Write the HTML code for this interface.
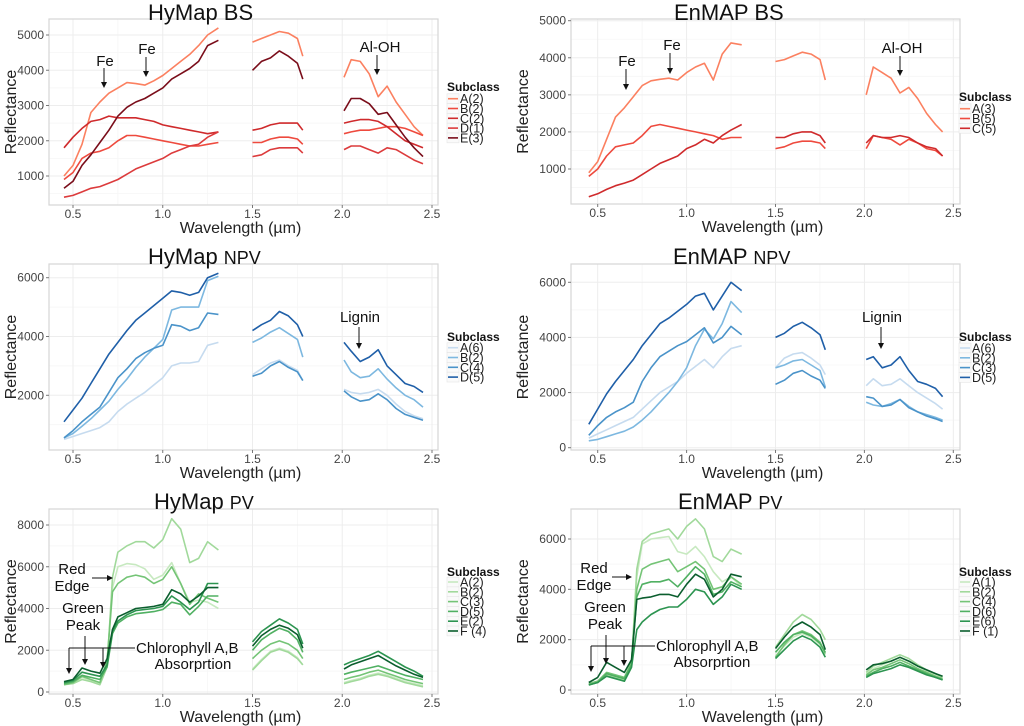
<!DOCTYPE html>
<html><head><meta charset="utf-8"><style>
body{margin:0;background:#fff;}
svg{display:block;font-family:"Liberation Sans",sans-serif;}
</style></head><body>
<svg id="chart" width="1024" height="726" viewBox="0 0 1024 726"></svg>
<script>
// ---- wavelength samples (µm) ----
const wlVis = [0.45,0.5,0.55,0.6,0.65,0.7,0.75,0.8,0.85,0.9,0.95,1.0,1.05,1.1,1.15,1.2,1.25,1.31];
const wlVisPV = [0.45,0.5,0.55,0.6,0.65,0.69,0.72,0.75,0.8,0.85,0.9,0.95,1.0,1.05,1.1,1.15,1.2,1.25,1.31];
const wlSwir1 = [1.5,1.55,1.6,1.65,1.7,1.75,1.78];
const wlSwir2H = [2.01,2.05,2.1,2.15,2.2,2.25,2.3,2.35,2.4,2.45];
const wlSwir2E = [2.01,2.05,2.1,2.15,2.2,2.25,2.3,2.35,2.4,2.44];

// ---- HyMap BS ----
const hyBS_A = [[1000,1300,1900,2800,3100,3350,3500,3650,3620,3580,3700,3850,4050,4250,4450,4700,5000,5200],[4800,4900,5000,5100,5050,4900,4400],[3800,4300,4250,3900,3250,3550,3100,2750,2400,2150]];
const hyBS_B = [[900,1100,1500,1650,1700,1800,2000,2150,2150,2100,2050,2000,1950,1900,1850,1850,1900,1950],[1950,1950,2050,2100,2100,2050,1900],[2200,2250,2300,2300,2350,2400,2400,2350,2250,2150]];
const hyBS_C = [[1800,2100,2350,2550,2600,2700,2650,2650,2650,2600,2550,2450,2400,2350,2300,2250,2200,2250],[2300,2350,2450,2500,2500,2500,2300],[2500,2550,2600,2600,2550,2400,2200,2000,1900,1800]];
const hyBS_D = [[400,450,550,650,700,800,900,1050,1200,1300,1400,1500,1650,1750,1850,1900,2100,2250],[1550,1600,1750,1800,1800,1800,1650],[1750,1850,1850,1750,1650,1800,1750,1600,1450,1350]];
const hyBS_E = [[650,850,1300,1600,1950,2300,2700,2950,3100,3200,3350,3500,3750,3900,4050,4250,4700,4850],[4000,4250,4350,4550,4400,4200,3750],[2850,3200,3200,3050,2750,2800,2450,2100,1800,1550]];
// ---- EnMAP BS ----
const enBS_A = [[900,1200,1800,2400,2650,2950,3250,3380,3420,3450,3400,3600,3750,3850,3400,4100,4400,4350],[3900,3950,4050,4150,4100,3950,3400],[3000,3750,3600,3450,3050,3200,2900,2500,2200,2000]];
const enBS_B = [[800,1000,1350,1600,1650,1700,1900,2150,2200,2150,2100,2050,2000,1950,1900,1800,1850,1850],[1550,1600,1700,1750,1750,1700,1550],[1550,1900,1850,1800,1650,1800,1700,1550,1500,1350]];
const enBS_C = [[250,330,450,550,620,700,850,1000,1150,1250,1350,1550,1650,1800,1700,1900,2050,2200],[1850,1850,1950,2000,2000,1900,1700],[1700,1900,1850,1850,1900,1850,1700,1600,1550,1350]];
// ---- HyMap NPV ----
const hyNPV_A = [[500,600,700,800,900,1100,1450,1700,1900,2100,2350,2600,3000,3100,3100,3150,3700,3800],[2700,2900,3100,3200,3000,2850,2500],[2200,2100,2050,2100,2200,2000,1700,1450,1300,1200]];
const hyNPV_B = [[550,700,950,1200,1500,1800,2200,2550,2950,3300,3600,3900,4900,5000,5000,5000,5900,6050],[3800,3950,4150,4300,4100,3900,3300],[3200,2800,2600,2650,2900,2550,2250,2000,1850,1600]];
const hyNPV_C = [[550,800,1100,1350,1600,2100,2600,2900,3250,3450,3600,3700,4400,4350,4200,4300,4800,4750],[2650,2750,3000,3150,2950,2800,2500],[2150,1950,1800,1850,2050,1850,1550,1350,1250,1150]];
const hyNPV_D = [[1100,1500,1900,2400,2900,3400,3800,4200,4550,4800,5050,5300,5550,5500,5400,5500,6000,6150],[4200,4400,4550,4850,4700,4400,4000],[3800,3500,3150,3300,3550,3000,2700,2400,2300,2100]];
// ---- EnMAP NPV ----
const enNPV_A = [[350,500,650,800,950,1100,1400,1700,2000,2200,2400,2700,2950,3200,2900,3300,3600,3700],[2900,3250,3400,3450,3250,3000,2650],[2250,2500,2250,2300,2500,2250,2000,1800,1600,1400]];
const enNPV_B = [[250,300,400,500,600,750,1000,1300,1650,2000,2400,2900,3700,4300,3950,4500,5300,4900],[2900,3000,3150,3200,3000,2800,2200],[1650,1550,1500,1600,1750,1500,1300,1200,1100,1000]];
const enNPV_C = [[450,800,1100,1300,1450,1650,2400,2900,3300,3500,3700,3850,4100,4350,3800,4000,4400,4100],[2300,2450,2700,2800,2600,2450,2150],[1850,1800,1500,1550,1750,1450,1300,1150,1050,950]];
const enNPV_D = [[850,1400,1950,2400,2800,3200,3700,4100,4500,4700,4950,5200,5500,5600,5000,5500,6000,5700],[4000,4150,4400,4550,4350,4100,3550],[3200,3300,2900,3000,3300,2800,2400,2300,2150,1850]];
// ---- HyMap PV ----
const hyPV_A = [[400,450,700,550,400,1500,5000,6000,6150,6100,5900,5400,5600,6200,5200,4300,4400,4300,4000],[1100,1550,1950,2100,1950,1650,1300],[450,550,650,800,900,800,650,500,400,300]];
const hyPV_B = [[350,400,600,500,350,1200,5500,6700,7000,7200,7200,6900,7300,8300,7800,6200,6400,7200,6800],[1050,1500,1900,2050,1900,1600,1300],[400,500,600,750,850,750,600,450,350,250]];
const hyPV_C = [[350,450,750,600,450,1500,4800,5200,5500,5600,5500,5200,5400,6000,5200,4200,4700,4500,4300],[1600,2000,2300,2450,2300,2000,1600],[600,700,800,950,1050,900,750,600,500,400]];
const hyPV_D = [[400,500,800,700,600,1200,2800,3300,3600,3750,3800,3850,3950,4300,4200,3700,4100,4600,4600],[2000,2500,2800,3050,2900,2500,1900],[850,950,1050,1150,1250,1100,950,800,700,600]];
const hyPV_E = [[450,550,950,850,750,1300,2900,3400,3700,3900,3950,4000,4100,4600,4300,3950,4300,5200,5200],[2400,2900,3200,3500,3300,3000,2300],[1300,1450,1600,1750,1950,1700,1450,1200,1000,750]];
const hyPV_F = [[500,600,1150,1000,900,1600,3000,3600,3800,4000,4050,4100,4200,4900,4700,4300,4600,5000,5000],[2200,2700,3000,3200,3050,2750,2100],[1100,1300,1450,1600,1750,1500,1250,1050,850,700]];
// ---- EnMAP PV ----
const enPV_A = [[250,300,600,500,400,1000,4500,5800,6000,6050,6100,5500,5400,5700,5300,4700,4300,4500,4100],[1350,1750,2100,2250,2100,1800,1400],[650,850,1000,1150,1300,1150,950,750,600,450]];
const enPV_B = [[250,300,600,500,400,1000,4800,5900,6200,6300,6400,6000,6500,6800,6400,5300,5100,5600,5400],[1700,2200,2700,3000,2800,2400,2000],[700,950,1100,1250,1400,1250,1000,800,650,500]];
const enPV_C = [[250,350,700,600,500,1100,4000,4800,5000,5100,5200,4700,4900,5100,4800,4000,4100,4500,4200],[1300,1800,2200,2350,2200,1900,1450],[600,800,900,1050,1200,1050,850,700,550,450]];
const enPV_D = [[200,300,650,550,450,1000,3700,4200,4300,4300,4400,4100,4500,4900,4600,3800,3900,4300,4100],[1500,1900,2200,2300,2150,1850,1500],[550,700,850,950,1100,950,800,650,500,400]];
const enPV_E = [[200,300,550,450,350,900,2400,2700,3000,3200,3300,3300,3600,4000,3900,3400,3700,4200,4000],[1250,1600,1950,2150,2000,1700,1300],[500,650,750,850,1000,900,750,600,500,400]];
const enPV_F = [[300,500,1100,900,700,1200,3600,3650,3700,3800,3800,3700,4200,4600,4400,3700,4000,4600,4500],[1650,2100,2500,2700,2500,2200,1600],[800,1000,1050,1150,1300,1150,950,800,650,550]];

const xTicks = [0.5,1.0,1.5,2.0,2.5];
const xTickLabels = ["0.5","1.0","1.5","2.0","2.5"];

const NS = "http://www.w3.org/2000/svg";
const svg = document.getElementById('chart');
function mk(tag, attrs, parent, text){
  const e = document.createElementNS(NS, tag);
  for (const k in attrs) e.setAttribute(k, attrs[k]);
  if (text !== undefined) e.textContent = text;
  (parent || svg).appendChild(e);
  return e;
}
const reds = ['#fb8060','#ee4a3e','#cf2a2c','#dc3b3c','#7a0d1a'];
const blues = ['#c6dbef','#7db8e0','#4a93c9','#1f5fa8'];
const greens = ['#c7e9c0','#a1d99b','#74c476','#50b062','#2c9450','#0b5e2e'];

const panels = [
 {id:'hymap-bs', L:0, top:19, bot:205, y1:[1000,176], y2:[5000,35], yticks:[1000,2000,3000,4000,5000], minor:[500,1500,2500,3500,4500],
  t1:'HyMap', t2:'BS', tx:148, ty:22, t2small:false, leg:87, legFirst:98.7,
  series:[['A(2)',hyBS_A],['B(2)',hyBS_B],['C(2)',hyBS_C],['D(1)',hyBS_D],['E(3)',hyBS_E]], colors:reds, vis:wlVis, sw2:wlSwir2H},
 {id:'hymap-npv', L:0, top:264, bot:450, y1:[2000,395.3], y2:[6000,277.7], yticks:[2000,4000,6000], minor:[1000,3000,5000],
  t1:'HyMap', t2:'NPV', tx:148, ty:266, t2small:true, leg:337, legFirst:347.7,
  series:[['A(6)',hyNPV_A],['B(2)',hyNPV_B],['C(4)',hyNPV_C],['D(5)',hyNPV_D]], colors:blues, vis:wlVis, sw2:wlSwir2H},
 {id:'hymap-pv', L:0, top:509, bot:694, y1:[0,692], y2:[8000,525], yticks:[0,2000,4000,6000,8000], minor:[1000,3000,5000,7000],
  t1:'HyMap', t2:'PV', tx:154, ty:511, t2small:true, leg:572, legFirst:582,
  series:[['A(2)',hyPV_A],['B(2)',hyPV_B],['C(3)',hyPV_C],['D(5)',hyPV_D],['E(2)',hyPV_E],['F (4)',hyPV_F]], colors:greens, vis:wlVisPV, sw2:wlSwir2H},
 {id:'enmap-bs', L:512, top:19, bot:204, y1:[1000,169], y2:[5000,20.7], yticks:[1000,2000,3000,4000,5000], minor:[500,1500,2500,3500,4500],
  t1:'EnMAP', t2:'BS', tx:674, ty:22, t2small:false, leg:97, legFirst:108.7,
  series:[['A(3)',enBS_A],['B(5)',enBS_B],['C(5)',enBS_C]], colors:[reds[0],reds[1],reds[2]], vis:wlVis, sw2:wlSwir2E},
 {id:'enmap-npv', L:512, top:264, bot:450, y1:[0,447.7], y2:[6000,282.3], yticks:[0,2000,4000,6000], minor:[1000,3000,5000],
  t1:'EnMAP', t2:'NPV', tx:673, ty:266, t2small:true, leg:337, legFirst:348,
  series:[['A(6)',enNPV_A],['B(2)',enNPV_B],['C(3)',enNPV_C],['D(5)',enNPV_D]], colors:blues, vis:wlVis, sw2:wlSwir2E},
 {id:'enmap-pv', L:512, top:509, bot:694, y1:[0,690], y2:[6000,539], yticks:[0,2000,4000,6000], minor:[1000,3000,5000],
  t1:'EnMAP', t2:'PV', tx:678, ty:511, t2small:true, leg:572, legFirst:582,
  series:[['A(1)',enPV_A],['B(2)',enPV_B],['C(4)',enPV_C],['D(6)',enPV_D],['E(6)',enPV_E],['F (1)',enPV_F]], colors:greens, vis:wlVisPV, sw2:wlSwir2E}
];

panels.forEach(p => {
  const g = mk('g', {});
  
  
  const x05 = p.L ? 597.7 : 73, x25 = p.L ? 953.3 : 432;
  const xs = w => x05 + (w - 0.5) * (x25 - x05) / 2;
  const ys = v => p.y1[1] + (v - p.y1[0]) * (p.y2[1] - p.y1[1]) / (p.y2[0] - p.y1[0]);
  const left = p.L ? 571 : 49, right = p.L ? 960 : 438;
  const cx = (left + right) / 2;
  const grid = mk('g', {}, g);
  
  
  [0.75,1.25,1.75,2.25].forEach(w => mk('line',{x1:xs(w),x2:xs(w),y1:p.top,y2:p.bot,stroke:'#f6f6f6','stroke-width':0.8},grid));
  p.minor.forEach(v => mk('line',{x1:left,x2:right,y1:ys(v),y2:ys(v),stroke:'#f6f6f6','stroke-width':0.8},grid));
  xTicks.forEach(w => mk('line',{x1:xs(w),x2:xs(w),y1:p.top,y2:p.bot,stroke:'#ededed','stroke-width':1},grid));
  p.yticks.forEach(v => mk('line',{x1:left,x2:right,y1:ys(v),y2:ys(v),stroke:'#ededed','stroke-width':1},grid));
  const box = mk('rect',{x:left,y:p.top,width:right-left,height:p.bot-p.top,fill:'none',stroke:'#d6d6d6','stroke-width':1.2},g);
  
  
  p.yticks.forEach(v => {
    mk('line',{x1:left-3,x2:left,y1:ys(v),y2:ys(v),stroke:'#777'},g);
    const t = mk('text',{x:left-5,y:ys(v)+4,'text-anchor':'end','font-size':12,fill:'#444'},g,String(v));
    
    
  });
  xTicks.forEach((w,i) => {
    mk('line',{x1:xs(w),x2:xs(w),y1:p.bot,y2:p.bot+3,stroke:'#777'},g);
    const t = mk('text',{x:xs(w),y:p.bot+13,'text-anchor':'middle','font-size':12,fill:'#444'},g,xTickLabels[i]);
    
    
  });
  const xt = mk('text',{x:cx-3,y:p.bot+28,'text-anchor':'middle','font-size':16,fill:'#222'},g,'Wavelength (µm)');
  
  
  const yc = (p.top + p.bot) / 2;
  const yt = mk('text',{x:p.L+16,y:yc,'text-anchor':'middle','font-size':16,fill:'#222',transform:`rotate(-90 ${p.L+16} ${yc})`},g,'Reflectance');
  
  
  const tt = mk('text',{x:p.tx,y:p.ty-2,'font-size':22,fill:'#111'},g);
  
  
  mk('tspan',{},tt,p.t1 + ' ');
  mk('tspan',{'font-size':p.t2small?18:22},tt,p.t2);
  const segs = [p.vis, wlSwir1, p.sw2];
  p.series.forEach((s, si) => {
    const sg = mk('g',{},g);
    
    
    s[1].forEach((vals, k) => {
      const wl = segs[k];
      let d = '';
      vals.forEach((v, i) => { d += (i ? 'L' : 'M') + xs(wl[i]).toFixed(1) + ' ' + ys(v).toFixed(1); });
      const path = mk('path',{d:d,fill:'none',stroke:p.colors[si],'stroke-width':1.6,'stroke-linejoin':'round'},sg);
      
      
    });
  });
  const lx = p.L + 447;
  const lg = mk('g',{},g);
  
  
  mk('text',{x:lx,y:p.leg+4,'font-size':12,'font-weight':'bold',fill:'#111'},lg,'Subclass');
  p.series.forEach((s, si) => {
    const yy = p.legFirst + si * 9.8;
    const e = mk('g',{},lg);
    
    
    mk('rect',{x:lx,y:yy-4.9,width:12,height:9.8,fill:'#fafafa',stroke:'#e4e4e4','stroke-width':0.6},e);
    mk('line',{x1:lx+1,x2:lx+11,y1:yy,y2:yy,stroke:p.colors[si],'stroke-width':1.6},e);
    mk('text',{x:lx+13,y:yy+4.5,'font-size':12.5,fill:'#222'},e,s[0]);
  });
});

function arrowDown(x, y1, y2, name){
  const g = mk('g',{});
  
  
  mk('line',{x1:x,x2:x,y1:y1,y2:y2-5,stroke:'#111','stroke-width':1},g);
  mk('polygon',{points:`${x-3},${y2-6} ${x+3},${y2-6} ${x},${y2}`,fill:'#111'},g);
  return g;
}
function label(x, y, txt, name, anchor){
  const t = mk('text',{x:x,y:y,'text-anchor':anchor||'middle','font-size':15,fill:'#111'},svg,txt);
  
  
}
label(105,66,'Fe','fe-label-1'); arrowDown(104,68,88,'fe-arrow-1');
label(147,54,'Fe','fe-label-2'); arrowDown(146,57,77,'fe-arrow-2');
label(380,52,'Al-OH','aloh-label'); arrowDown(377,55,75,'aloh-arrow');
label(627,66,'Fe','fe-label-3'); arrowDown(626,69,90,'fe-arrow-3');
label(672,50,'Fe','fe-label-4'); arrowDown(670,53,74,'fe-arrow-4');
label(902,53,'Al-OH','aloh-label-2'); arrowDown(900,56,76,'aloh-arrow-2');
label(360,322,'Lignin','lignin-label'); arrowDown(359,327,349,'lignin-arrow');
label(882,322,'Lignin','lignin-label-2'); arrowDown(881,327,349,'lignin-arrow-2');
function pvAnno(o, sfx){
  label(o.rx,o.ry,'Red','red-edge-label-'+sfx); label(o.rx,o.ry+17,'Edge','red-edge-label2-'+sfx);
  const a = mk('g',{});
  
  
  mk('line',{x1:o.ra1,x2:o.ra2-5,y1:o.ray,y2:o.ray,stroke:'#111'},a);
  mk('polygon',{points:`${o.ra2-6},${o.ray-3} ${o.ra2-6},${o.ray+3} ${o.ra2},${o.ray}`,fill:'#111'},a);
  label(o.gx,o.gy,'Green','green-peak-label-'+sfx); label(o.gx,o.gy+17,'Peak','green-peak-label2-'+sfx);
  arrowDown(o.gax,o.gy+23,o.gy+52,'green-peak-arrow-'+sfx);
  const b = mk('line',{x1:o.b1,x2:o.b2,y1:o.by,y2:o.by,stroke:'#111'});
  
  
  arrowDown(o.b1,o.by,o.by+26,'chlorophyll-arrow-a-'+sfx);
  arrowDown(o.b3,o.by,o.by+20,'chlorophyll-arrow-b-'+sfx);
  label(o.b2+1,o.by+5,'Chlorophyll A,B','chlorophyll-label-'+sfx,'start');
  label(o.ax,o.by+21,'Absorprtion','absorption-label-'+sfx);
}
pvAnno({rx:72,ry:574,ra1:92,ra2:113,ray:578,gx:83,gy:613,gax:85,b1:69,b2:135,b3:103,by:648,ax:193},'hymap');
pvAnno({rx:594,ry:573,ra1:612,ra2:632,ray:577,gx:605,gy:612,gax:606,b1:591,b2:655,b3:624,by:646,ax:712},'enmap');
</script>
</body></html>
